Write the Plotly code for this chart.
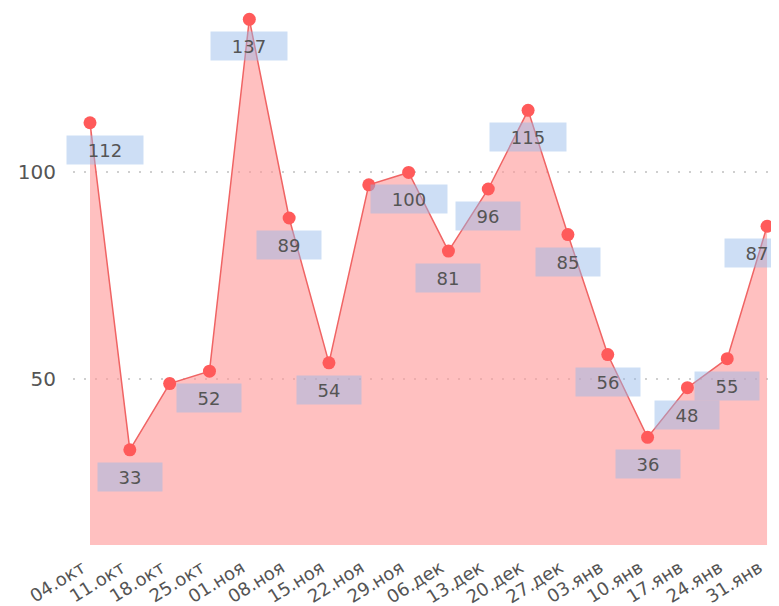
import plotly.graph_objects as go

weeks = ["04.окт", "11.окт", "18.окт", "25.окт", "01.ноя", "08.ноя", "15.ноя",
         "22.ноя", "29.ноя", "06.дек", "13.дек", "20.дек", "27.дек", "03.янв",
         "10.янв", "17.янв", "24.янв", "31.янв"]
values = [112, 33, 49, 52, 137, 89, 54, 97, 100, 81, 96, 115, 85, 56, 36, 48, 55, 87]
# labels hidden in the original for these weeks
hidden_labels = ["18.окт", "22.ноя"]

idx = list(range(len(weeks)))

fig = go.Figure()
fig.add_trace(go.Scatter(
    x=idx, y=values,
    mode="lines+markers",
    fill="tozeroy",
    fillcolor="rgba(255,150,150,0.6)",
    line=dict(color="#f06464", width=1.5),
    marker=dict(color="#ff5a5a", size=13),
    hoverinfo="skip",
    showlegend=False
))

# value labels under each point
for i, (w, v) in enumerate(zip(weeks, values)):
    if w in hidden_labels:
        continue
    shift = 0
    if i == 0:
        shift = 15
    elif i == len(weeks) - 1:
        shift = -10
    fig.add_annotation(
        x=i, y=v, text=str(v), showarrow=False,
        yshift=-27, xshift=shift,
        width=76 if v >= 100 else 64, height=28,
        bgcolor="rgba(146,183,233,0.46)", borderpad=0,
        font=dict(size=18, color="#555555", family="DejaVu Sans")
    )

fig.update_xaxes(
    range=[-0.427, 17.3],
    tickmode="array", tickvals=idx, ticktext=weeks,
    tickangle=-32,
    tickfont=dict(size=18, color="#555555"),
    ticklabelstandoff=8, ticklabelshift=-8,
    showgrid=False, zeroline=False, showline=False
)
fig.update_yaxes(
    range=[10, 139],
    tickvals=[50, 100],
    tickfont=dict(size=20, color="#555555"),
    showgrid=True, gridcolor="#cfcfcf", griddash="2px,9px", gridwidth=2,
    zeroline=False, showline=False,
    ticklabelstandoff=16
)

# the page body has an 8px margin, so the figure is sized to fit the window
fig.update_layout(
    width=771, height=598,
    margin=dict(l=65, r=0, t=3, b=61),
    plot_bgcolor="white", paper_bgcolor="white",
    font=dict(family="DejaVu Sans", color="#555555")
)

fig.write_html("out.html")
